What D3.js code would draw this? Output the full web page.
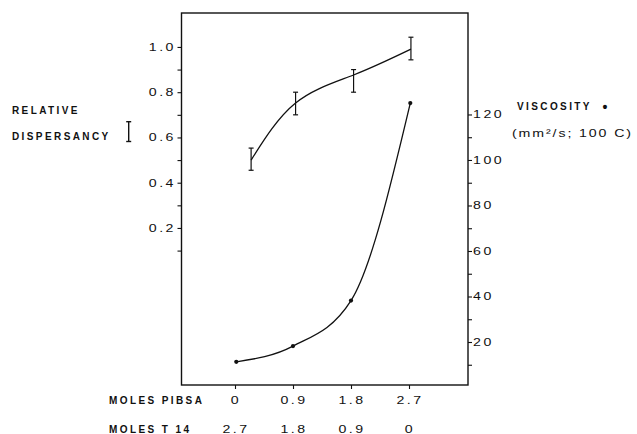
<!DOCTYPE html>
<html>
<head>
<meta charset="utf-8">
<script src="https://cdn.jsdelivr.net/npm/d3@7"></script>
<style>
  html, body { margin: 0; padding: 0; background: #fff; }
  svg { display: block; }
  .num { font-family: "Liberation Sans", Arial, sans-serif; font-size: 10.5px; letter-spacing: 1.8px; fill: #111; }
  .lbl { font-family: "Liberation Sans", Arial, sans-serif; font-size: 10px; font-weight: bold; letter-spacing: 2.4px; fill: #111; }
</style>
</head>
<body>
<svg id="chart" width="637" height="434"></svg>
<script>
// ---- data ----
const pibsaTicks = [0, 0.9, 1.8, 2.7];
const pibsaLabels = ["0", "0.9", "1.8", "2.7"];
const t14Labels = ["2.7", "1.8", "0.9", "0"];

const dispX = [0.25, 0.94, 1.84, 2.73];
const dispMean = [0.50, 0.752, 0.876, 0.99];
const dispLow = [0.455, 0.70, 0.80, 0.943];
const dispHigh = [0.553, 0.80, 0.90, 1.043];

const viscX = [0.02, 0.9, 1.8, 2.72];
const viscVal = [11.3, 18.2, 38.2, 125];

const leftMajor = [0.2, 0.4, 0.6, 0.8, 1.0];
const leftMinor = [0.1, 0.3, 0.5, 0.7, 0.9];
const rightMajor = [20, 40, 60, 80, 100, 120];
const rightMinor = [10, 30, 50, 70, 90, 110];

// ---- layout ----
const frame = { left: 181.5, right: 468, top: 13, bottom: 385 };
const SX = 1.35; // horizontal stretch of the wide typeface

const svg = d3.select("#chart");

const x = d3.scaleLinear().domain([0, 2.7]).range([235, 409]);
const yL = d3.scaleLinear().domain([-0.494, 1.15]).range([frame.bottom, frame.top]);
const yR = d3.scaleLinear().domain([1.1, 164.6]).range([frame.bottom, frame.top]);

// frame
svg.append("rect")
  .attr("x", frame.left).attr("y", frame.top)
  .attr("width", frame.right - frame.left).attr("height", frame.bottom - frame.top)
  .attr("fill", "none").attr("stroke", "#111").attr("stroke-width", 1.4);

function styleAxis(g) {
  g.select(".domain").remove();
  g.selectAll(".tick line").attr("stroke", "#111").attr("stroke-width", 1.1);
  g.selectAll("text").attr("class", "num").attr("fill", null)
    .attr("font-family", null).attr("font-size", null);
}

// left axis
const gL = svg.append("g").attr("transform", `translate(${frame.left},0)`)
  .call(d3.axisLeft(yL).tickValues(leftMajor).tickSize(4).tickPadding(2).tickFormat(d3.format(".1f")));
styleAxis(gL);
gL.selectAll("text").attr("transform", `scale(${SX},1)`).attr("x", -4.2);
svg.append("g").attr("transform", `translate(${frame.left},0)`)
  .call(d3.axisLeft(yL).tickValues(leftMinor).tickSize(4).tickFormat(""))
  .call(styleAxis);

// right axis
const gR = svg.append("g").attr("transform", `translate(${frame.right},0)`)
  .call(d3.axisRight(yR).tickValues(rightMajor).tickSize(4).tickPadding(2));
styleAxis(gR);
gR.selectAll("text").attr("transform", `scale(${SX},1)`).attr("x", 3.8);
svg.append("g").attr("transform", `translate(${frame.right},0)`)
  .call(d3.axisRight(yR).tickValues(rightMinor).tickSize(4).tickFormat(""))
  .call(styleAxis);

// bottom axis
svg.append("g").attr("transform", `translate(0,${frame.bottom})`)
  .call(d3.axisBottom(x).tickValues(pibsaTicks).tickSize(4).tickFormat(""))
  .call(styleAxis);

// bottom label rows
function stretchedText(px, py, txt, anchor) {
  svg.append("text").attr("class", "num")
    .attr("transform", `translate(${px},${py}) scale(${SX},1)`)
    .attr("text-anchor", anchor).text(txt);
}
pibsaTicks.forEach((v, i) => {
  stretchedText(x(v) + 1, 404, pibsaLabels[i], "middle");
  stretchedText(x(v) + 1, 432.5, t14Labels[i], "middle");
});
svg.append("text").attr("class", "lbl").attr("x", 109).attr("y", 404).text("MOLES PIBSA");
svg.append("text").attr("class", "lbl").attr("x", 109).attr("y", 432.5).text("MOLES T 14");

// left title
svg.append("text").attr("class", "lbl").attr("x", 12).attr("y", 113.5).text("RELATIVE");
svg.append("text").attr("class", "lbl").attr("x", 12).attr("y", 140).text("DISPERSANCY");
const gi = svg.append("g").attr("stroke", "#111").attr("stroke-width", 1.4);
gi.append("line").attr("x1", 128.7).attr("x2", 128.7).attr("y1", 121.7).attr("y2", 141.5);
gi.append("line").attr("x1", 126.2).attr("x2", 131.2).attr("y1", 121.7).attr("y2", 121.7);
gi.append("line").attr("x1", 126.2).attr("x2", 131.2).attr("y1", 141.5).attr("y2", 141.5);

// right title
svg.append("text").attr("class", "lbl").attr("x", 517).attr("y", 110).text("VISCOSITY");
svg.append("text").attr("class", "lbl").attr("x", 605).attr("y", 111.5).attr("text-anchor", "middle")
  .style("letter-spacing", "0px").style("font-size", "14px").text("•");
svg.append("text").attr("class", "num")
  .attr("transform", `translate(512,137) scale(${SX},1)`)
  .style("letter-spacing", "1.4px").text("(mm²/s; 100 C)");

// dispersancy curve + error bars
const dispData = dispX.map((v, i) => ({ x: v, y: dispMean[i], lo: dispLow[i], hi: dispHigh[i] }));
svg.append("path").datum(dispData)
  .attr("fill", "none").attr("stroke", "#111").attr("stroke-width", 1.3)
  .attr("d", d3.line().x(d => x(d.x)).y(d => yL(d.y)).curve(d3.curveNatural));
const eb = svg.append("g").attr("stroke", "#111").attr("stroke-width", 1.2)
  .selectAll("g").data(dispData).join("g");
eb.append("line").attr("x1", d => x(d.x)).attr("x2", d => x(d.x))
  .attr("y1", d => yL(d.lo)).attr("y2", d => yL(d.hi));
eb.append("line").attr("x1", d => x(d.x) - 2.5).attr("x2", d => x(d.x) + 2.5)
  .attr("y1", d => yL(d.lo)).attr("y2", d => yL(d.lo));
eb.append("line").attr("x1", d => x(d.x) - 2.5).attr("x2", d => x(d.x) + 2.5)
  .attr("y1", d => yL(d.hi)).attr("y2", d => yL(d.hi));

// viscosity curve + dots
const viscData = viscX.map((v, i) => ({ x: v, y: viscVal[i] }));
svg.append("path").datum(viscData)
  .attr("fill", "none").attr("stroke", "#111").attr("stroke-width", 1.3)
  .attr("d", d3.line().x(d => x(d.x)).y(d => yR(d.y)).curve(d3.curveMonotoneX));
svg.append("g").selectAll("circle").data(viscData).join("circle")
  .attr("cx", d => x(d.x)).attr("cy", d => yR(d.y)).attr("r", 2.1).attr("fill", "#111");
</script>
</body>
</html>
